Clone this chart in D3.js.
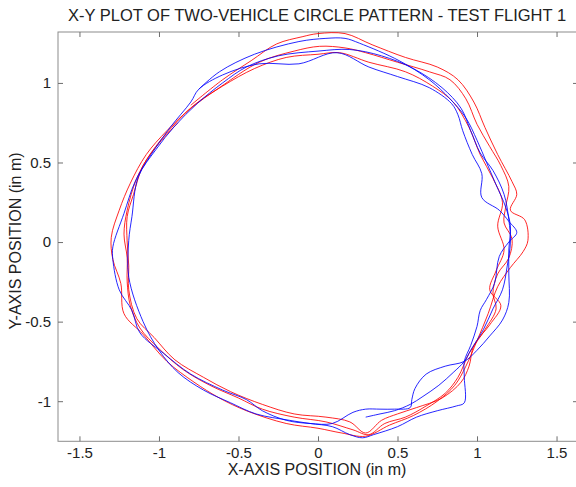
<!DOCTYPE html>
<html><head><meta charset="utf-8">
<script src="https://cdn.jsdelivr.net/npm/d3@7"></script>
<style>body{margin:0;background:#fff}svg{display:block}</style>
</head><body>
<script>
// Axis ticks
const xTicks = [-1.5, -1, -0.5, 0, 0.5, 1, 1.5];
const yTicks = [-1, -0.5, 0, 0.5, 1];

// Vehicle 1 (red) track, one array per lap, [x, y] in metres
const redLap1 = [[-0.80,0.86],[-0.60,1.02],[-0.42,1.14],[-0.26,1.245],[-0.10,1.29],[0.00,1.31],[0.17,1.31],[0.34,1.24],[0.55,1.16],[0.75,1.10],[0.88,1.02],[0.98,0.88],[1.05,0.72],[1.13,0.55],[1.22,0.38],[1.25,0.30],[1.21,0.20],[1.30,0.14],[1.32,0.01],[1.29,-0.06],[1.21,-0.16],[1.13,-0.28],[1.07,-0.45],[1.00,-0.62],[0.93,-0.78],[0.86,-0.90],[0.75,-1.00],[0.60,-1.09],[0.45,-1.15],[0.30,-1.22],[0.15,-1.20],[0.00,-1.17],[-0.20,-1.14],[-0.45,-1.06],[-0.62,-0.98],[-0.78,-0.88],[-0.95,-0.75],[-1.10,-0.58],[-1.22,-0.45],[-1.24,-0.26],[-1.29,-0.11],[-1.30,0.03],[-1.25,0.20],[-1.18,0.37],[-1.08,0.55],[-0.95,0.70],[-0.80,0.84]];
const redLap2 = [[-0.62,0.97],[-0.37,1.13],[-0.15,1.20],[0.01,1.23],[0.17,1.22],[0.30,1.19],[0.50,1.13],[0.70,1.07],[0.83,1.02],[0.93,0.90],[1.00,0.74],[1.08,0.60],[1.15,0.48],[1.20,0.35],[1.18,0.22],[1.17,0.12],[1.22,0.02],[1.20,-0.10],[1.13,-0.20],[1.10,-0.32],[1.12,-0.42],[1.05,-0.55],[0.95,-0.70],[0.88,-0.85],[0.80,-0.95],[0.68,-1.03],[0.55,-1.10],[0.42,-1.14],[0.32,-1.21],[0.22,-1.18],[0.05,-1.13],[-0.15,-1.10],[-0.35,-1.05],[-0.50,-0.98],[-0.68,-0.90],[-0.85,-0.80],[-1.00,-0.67],[-1.12,-0.54],[-1.18,-0.40],[-1.20,-0.25],[-1.20,-0.10],[-1.22,0.05],[-1.20,0.20],[-1.14,0.40],[-1.05,0.56],[-0.92,0.72],[-0.78,0.86]];
const redLap3 = [[-0.60,0.98],[-0.40,1.09],[-0.20,1.16],[0.00,1.18],[0.135,1.19],[0.32,1.13],[0.55,1.07],[0.72,0.98],[0.85,0.88],[0.95,0.72],[1.02,0.55],[1.10,0.40],[1.16,0.25],[1.13,0.10],[1.17,-0.05],[1.12,-0.18],[1.08,-0.30],[1.15,-0.40],[1.08,-0.52],[0.98,-0.65],[0.95,-0.78],[0.90,-0.88],[0.78,-0.98],[0.62,-1.04],[0.50,-1.08],[0.40,-1.12],[0.30,-1.20],[0.20,-1.13],[0.05,-1.10],[-0.15,-1.08],[-0.35,-1.02],[-0.55,-0.94],[-0.72,-0.85],[-0.90,-0.74],[-1.03,-0.60],[-1.14,-0.48],[-1.19,-0.30],[-1.19,-0.15],[-1.20,0.00],[-1.20,0.16],[-1.16,0.30],[-1.10,0.48],[-1.00,0.62],[-0.88,0.75]];

// Vehicle 2 (blue) track
const blueLap1 = [[-0.75,0.96],[-0.62,1.07],[-0.40,1.18],[-0.12,1.26],[0.05,1.28],[0.17,1.28],[0.26,1.25],[0.51,1.14],[0.70,1.02],[0.83,0.90],[0.93,0.78],[1.00,0.64],[1.06,0.50],[1.12,0.36],[1.18,0.22],[1.21,0.10],[1.20,-0.05],[1.20,-0.20],[1.20,-0.38],[1.16,-0.49],[1.08,-0.59],[1.00,-0.68],[0.92,-0.75],[0.80,-0.78],[0.68,-0.83],[0.61,-0.92],[0.59,-0.99],[0.58,-1.04],[0.48,-1.05],[0.39,-1.05],[0.30,-1.05],[0.22,-1.07],[0.09,-1.14],[-0.05,-1.14],[-0.20,-1.12],[-0.35,-1.06],[-0.45,-0.99],[-0.60,-0.93],[-0.80,-0.83],[-0.97,-0.70],[-1.12,-0.57],[-1.17,-0.43],[-1.25,-0.30],[-1.29,-0.11],[-1.29,-0.03],[-1.22,0.18],[-1.15,0.38],[-1.05,0.55],[-0.93,0.72],[-0.80,0.88],[-0.75,0.96]];
const blueLap2 = [[-0.60,1.05],[-0.37,1.12],[-0.12,1.12],[0.12,1.19],[0.32,1.10],[0.50,1.04],[0.70,0.97],[0.84,0.87],[0.88,0.80],[0.91,0.70],[0.97,0.55],[1.03,0.43],[1.03,0.28],[1.14,0.20],[1.20,0.13],[1.25,0.06],[1.20,0.00],[1.14,-0.09],[1.11,-0.26],[1.06,-0.36],[1.02,-0.43],[1.00,-0.53],[0.96,-0.65],[0.92,-0.75],[0.92,-0.85],[0.92,-1.01],[0.87,-1.03],[0.75,-1.06],[0.62,-1.10],[0.50,-1.16],[0.35,-1.21],[0.28,-1.23],[0.20,-1.21],[0.09,-1.16],[-0.05,-1.14],[-0.18,-1.12],[-0.39,-1.08],[-0.55,-1.01],[-0.72,-0.93],[-0.88,-0.82],[-1.00,-0.68],[-1.10,-0.50],[-1.19,-0.22],[-1.19,0.01],[-1.17,0.16],[-1.13,0.41],[-1.02,0.58],[-0.90,0.73],[-0.76,0.87],[-0.60,1.00]];
const blueLap3 = [[-0.45,1.10],[-0.25,1.17],[0.00,1.20],[0.20,1.21],[0.40,1.17],[0.60,1.09],[0.78,0.97],[0.90,0.84],[0.96,0.70],[1.02,0.56],[1.10,0.45],[1.17,0.30],[1.20,0.14],[1.21,0.00],[1.19,-0.15],[1.16,-0.30],[1.10,-0.42],[1.04,-0.55],[0.96,-0.68],[0.92,-0.75],[0.85,-0.82],[0.76,-0.90],[0.66,-0.97],[0.58,-1.02],[0.48,-1.06],[0.39,-1.08],[0.30,-1.10]];

const redTrack = [...redLap1, ...redLap2, ...redLap3];
const blueTrack = [...blueLap1, ...blueLap2, ...blueLap3];

const W = 576, H = 487;
const plot = {left: 58, right: 578, top: 32, bottom: 441.3};
const FONT = "'Liberation Sans', Arial, Helvetica, sans-serif";

const x = d3.scaleLinear().domain([-1.635, 1.635]).range([plot.left, plot.right]);
const y = d3.scaleLinear().domain([-1.252, 1.32]).range([plot.bottom, plot.top]);

const svg = d3.select("body").append("svg").attr("width", W).attr("height", H)
  .style("font-family", FONT);

svg.append("defs").append("clipPath").attr("id", "plotclip")
  .append("rect").attr("x", plot.left).attr("y", plot.top)
  .attr("width", plot.right - plot.left).attr("height", plot.bottom - plot.top);

// Frame
svg.append("rect").attr("x", plot.left).attr("y", plot.top)
  .attr("width", plot.right - plot.left).attr("height", plot.bottom - plot.top)
  .attr("fill", "none").attr("stroke", "#8c8c8c").attr("stroke-width", 1);

const fmt = v => String(v);
const tickLen = 5;
const axisStyle = g => {
  g.select(".domain").remove();
  g.selectAll(".tick line").attr("stroke", "#6e6e6e");
  g.selectAll(".tick text").attr("fill", "#222").style("font-size", "15px").style("font-family", FONT);
};

// Bottom axis: inward ticks, labels below
svg.append("g").attr("transform", `translate(0,${plot.bottom})`)
  .call(d3.axisBottom(x).tickValues(xTicks).tickFormat(fmt).tickSizeInner(-tickLen).tickSizeOuter(0).tickPadding(6))
  .call(axisStyle);
// Top axis: ticks only
svg.append("g").attr("transform", `translate(0,${plot.top})`)
  .call(d3.axisTop(x).tickValues(xTicks).tickFormat("").tickSizeInner(-tickLen).tickSizeOuter(0))
  .call(axisStyle);
// Left axis
svg.append("g").attr("transform", `translate(${plot.left},0)`)
  .call(d3.axisLeft(y).tickValues(yTicks).tickFormat(fmt).tickSizeInner(-tickLen).tickSizeOuter(0).tickPadding(7))
  .call(axisStyle);
// Right axis: ticks only
svg.append("g").attr("transform", `translate(${plot.right},0)`)
  .call(d3.axisRight(y).tickValues(yTicks).tickFormat("").tickSizeInner(-tickLen).tickSizeOuter(0))
  .call(axisStyle);

// Tracks
const line = d3.line().x(d => x(d[0])).y(d => y(d[1])).curve(d3.curveCatmullRom.alpha(0.5));
const tracks = svg.append("g").attr("clip-path", "url(#plotclip)");
tracks.append("path").datum(redTrack).attr("d", line)
  .attr("fill", "none").attr("stroke", "#ff0000").attr("stroke-width", 1).attr("stroke-opacity", 0.85);
tracks.append("path").datum(blueTrack).attr("d", line)
  .attr("fill", "none").attr("stroke", "#0000ff").attr("stroke-width", 1).attr("stroke-opacity", 0.85);

// Titles
svg.append("text").attr("x", 317).attr("y", 21).attr("text-anchor", "middle")
  .attr("fill", "#222").style("font-size", "16.5px")
  .text("X-Y PLOT OF TWO-VEHICLE CIRCLE PATTERN - TEST FLIGHT 1");
svg.append("text").attr("x", 317).attr("y", 475).attr("text-anchor", "middle")
  .attr("fill", "#222").style("font-size", "16px")
  .text("X-AXIS POSITION (in m)");
svg.append("text").attr("transform", "translate(21,241) rotate(-90)")
  .attr("text-anchor", "middle").attr("fill", "#222").style("font-size", "16px")
  .text("Y-AXIS POSITION (in m)");
</script>
</body></html>
